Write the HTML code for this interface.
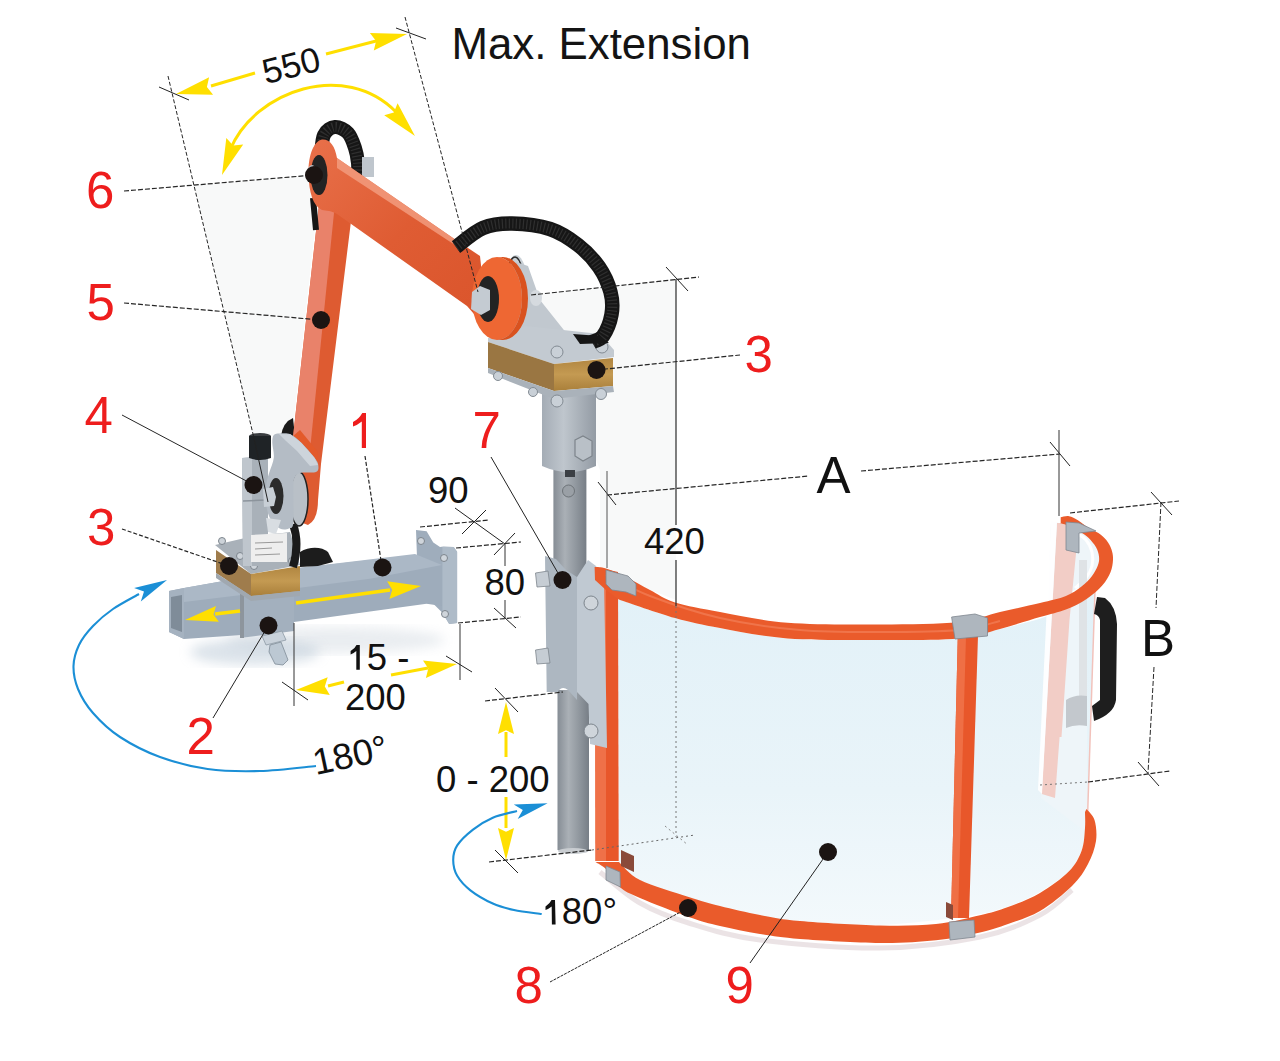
<!DOCTYPE html><html><head><meta charset="utf-8"><style>
html,body{margin:0;padding:0;background:#fff;width:1280px;height:1061px;overflow:hidden}
svg{display:block}
text{font-family:"Liberation Sans",sans-serif}
</style></head><body>
<svg width="1280" height="1061" viewBox="0 0 1280 1061">
<defs>
<linearGradient id="gArm" x1="0" y1="0" x2="1" y2="0"><stop offset="0" stop-color="#f58a63"/><stop offset="0.45" stop-color="#ef6c3e"/><stop offset="1" stop-color="#d9501f"/></linearGradient>
<linearGradient id="gArmU" x1="0" y1="0" x2="1" y2="1"><stop offset="0" stop-color="#e8704a"/><stop offset="0.5" stop-color="#df5c33"/><stop offset="1" stop-color="#da542b"/></linearGradient>
<linearGradient id="gGold" x1="0" y1="0" x2="0" y2="1"><stop offset="0" stop-color="#b08540"/><stop offset="0.5" stop-color="#c49a52"/><stop offset="1" stop-color="#a97f3a"/></linearGradient>
<linearGradient id="gGray" x1="0" y1="0" x2="1" y2="0"><stop offset="0" stop-color="#b9c1c9"/><stop offset="0.5" stop-color="#aab2ba"/><stop offset="1" stop-color="#8e969e"/></linearGradient>
<linearGradient id="gTube" x1="0" y1="0" x2="1" y2="0"><stop offset="0" stop-color="#8c8e92"/><stop offset="0.3" stop-color="#b5b7ba"/><stop offset="0.65" stop-color="#7c7e82"/><stop offset="1" stop-color="#5f6165"/></linearGradient>
<linearGradient id="gPanel" x1="0" y1="0" x2="0" y2="1"><stop offset="0" stop-color="#e2f1f8"/><stop offset="0.6" stop-color="#e9f4f9"/><stop offset="1" stop-color="#f3f9fc"/></linearGradient>
<linearGradient id="gBase" x1="0" y1="0" x2="0" y2="1"><stop offset="0" stop-color="#b3bbc3"/><stop offset="1" stop-color="#99a1a9"/></linearGradient>
<filter id="blur4"><feGaussianBlur stdDeviation="6"/></filter>
</defs>
<rect width="1280" height="1061" fill="#fff"/>

<path d="M194 185 L310 176 L317 210 L292 437 L253 434 Z" fill="#f8f9f9"/>
<path d="M531 295 L676 279 L676 600 L600 570 L600 470 Z" fill="#f8f9f9"/>
<ellipse cx="335" cy="640" rx="110" ry="13" fill="#c2ccd6" opacity="0.35" filter="url(#blur4)"/>
<ellipse cx="255" cy="652" rx="65" ry="13" fill="#b8c7d5" opacity="0.5" filter="url(#blur4)"/>
<path d="M618 599 C628.1 602.5 658.1 613.2 675.0 618.0 C691.9 622.8 701.2 624.6 720.0 628.0 C738.8 631.4 760.7 636.4 787.5 638.4 C814.3 640.4 852.4 640.0 881.0 640.0 C909.6 640.0 939.2 640.2 959.0 638.4 C978.8 636.6 986.6 632.3 1000.0 629.0 C1013.4 625.7 1027.3 622.7 1039.6 618.8 C1051.9 614.9 1065.1 610.0 1073.9 605.6 C1082.7 601.2 1089.3 594.6 1092.4 592.4 L1095 590 L1087 833 C1086.1 835.9 1084.7 844.1 1081.7 850.5 C1078.7 856.9 1076.0 864.4 1069.0 871.3 C1062.0 878.2 1050.2 886.1 1040.0 892.0 C1029.8 897.9 1020.0 902.5 1008.0 906.5 C996.0 910.5 989.3 912.9 968.0 916.0 C946.7 919.1 908.0 923.8 880.0 925.0 C852.0 926.2 821.3 924.3 800.0 923.0 C778.7 921.7 765.8 919.0 752.0 917.0 C738.2 915.0 729.0 913.7 717.5 911.0 C706.0 908.3 693.0 904.5 683.0 900.8 C673.0 897.1 665.9 893.1 657.3 888.8 C648.7 884.5 638.0 879.6 631.6 875.0 C625.2 870.4 620.9 863.3 618.7 861.0 Z" fill="url(#gPanel)"/>
<path d="M1051 521 L1060.7 523.5 C1062.2 523.9 1066.5 524.5 1070.0 526.0 C1073.5 527.5 1078.4 530.8 1081.5 532.8 C1084.6 534.8 1086.3 535.6 1088.7 538.0 C1091.1 540.4 1094.3 544.2 1096.0 547.3 C1097.7 550.4 1098.7 553.6 1099.0 556.6 C1099.3 559.6 1099.2 561.7 1098.0 565.0 C1096.8 568.3 1094.5 572.9 1091.8 576.3 C1089.0 579.7 1085.8 582.5 1081.5 585.6 C1077.2 588.7 1068.5 593.4 1065.9 595.0 L1087 600 L1087 833 L1041 798 Z" fill="#eef5f9"/>
<path d="M1075.0 532.0 C1076.8 533.3 1083.2 536.7 1086.0 540.0 C1088.8 543.3 1091.0 547.7 1092.0 552.0 C1093.0 556.3 1093.0 561.7 1092.0 566.0 C1091.0 570.3 1088.8 574.3 1086.0 578.0 C1083.2 581.7 1076.8 586.3 1075.0 588.0" stroke="#ffffff" stroke-width="3" fill="none"/>
<path d="M1057 523 L1079 523 L1069.5 620 L1061.5 737 L1059.6 737 L1055 798 L1041.8 794 Z" fill="#f2cdc6"/>
<path d="M1051 521 L1057 521 L1042 794 L1038 790 Z" fill="#ffffff" opacity="0.9"/>
<path d="M1079 560 L1087 560 L1087 699 L1079 699 Z" fill="#dfe3e6"/>
<path d="M1066 700 Q1075 694 1087 696 L1087 726 Q1075 724 1066 728 Z" fill="#c3c8cd"/>
<path d="M1095 590 L1087 833" stroke="#f2c2bb" stroke-width="1.5"/>
<path d="M1097 597 L1105 598 Q1116 606 1117 624 L1116 700 Q1114 714 1094 721 L1092 706 L1100 700 L1100 620 Q1099 615 1094 614 Z" fill="#1e1e1e"/>
<path d="M595 567 L618 572 L618.7 861 L595.5 861 Z" fill="#e8572a"/>
<path d="M595 567 L606 569 L606 861 L595.5 861 Z" fill="#ef7148"/>
<linearGradient id="gTube2" x1="0" y1="0" x2="1" y2="0"><stop offset="0" stop-color="#868d95"/><stop offset="0.35" stop-color="#aab0b6"/><stop offset="0.65" stop-color="#939aa1"/><stop offset="1" stop-color="#777e86"/></linearGradient>
<linearGradient id="gSleeve" x1="0" y1="0" x2="1" y2="0"><stop offset="0" stop-color="#a4acb5"/><stop offset="0.4" stop-color="#bfc6cd"/><stop offset="1" stop-color="#939ba4"/></linearGradient>
<path d="M557.5 690 L589 690 L589 850 Q573 856 557.5 850 Z" fill="url(#gTube2)"/>
<ellipse cx="573" cy="851" rx="15" ry="3" fill="#c9cdd1"/>
<rect x="553.4" y="465" width="33" height="112" fill="url(#gTube2)"/>
<path d="M542 393 L596 393 L596 466 Q569 478 542 466 Z" fill="url(#gSleeve)"/>
<path d="M575 440 L583 436 L592 441 L592 456 L583 461 L575 456 Z" fill="#b9c0c7" stroke="#7d848b" stroke-width="1.2"/>
<path d="M565 470 L575 470 L575 477 L565 477 Z" fill="#3b3f44"/>
<circle cx="568.5" cy="491" r="6" fill="#9aa0a6" stroke="#6d7378"/>
<path d="M545 556 L556 559 L566 570 L577 577 L577 700 L568 690 Q562 685 557.5 692 L546.7 692 Z" fill="#adb7c1"/>
<path d="M577 577 L588 560 L596 566 L604 580 L607 748 L590 744 L588.5 704 L577 692 Z" fill="#c0c9d2"/>
<path d="M535.5 573 L548 571 L550 586 L537 587 Z" fill="#c6cdd4" stroke="#7d858d" stroke-width="0.8"/>
<path d="M535.5 650 L548 648 L550 663 L537 664 Z" fill="#c6cdd4" stroke="#7d858d" stroke-width="0.8"/>
<circle cx="591" cy="603" r="7" fill="#cfd5db" stroke="#7d858d"/>
<circle cx="591" cy="731" r="7" fill="#cfd5db" stroke="#7d858d"/>
<path d="M594.6 567.0 C596.5 567.2 600.8 566.8 606.0 568.5 C611.2 570.2 618.7 573.4 626.0 577.0 C633.3 580.6 641.8 585.8 650.0 590.0 C658.2 594.2 663.3 598.8 675.0 602.5 C686.7 606.2 701.2 608.6 720.0 612.0 C738.8 615.4 760.7 620.7 787.5 622.8 C814.3 624.9 852.4 624.5 881.0 624.4 C909.6 624.2 939.2 624.0 959.0 621.9 C978.8 619.8 986.5 615.1 1000.0 612.0 C1013.5 608.9 1029.0 605.7 1040.0 603.0 C1051.0 600.3 1059.0 598.8 1065.9 596.0 C1072.8 593.2 1077.2 589.8 1081.5 586.5 C1085.8 583.2 1089.0 579.9 1091.8 576.3 C1094.5 572.7 1096.8 568.3 1098.0 565.0 C1099.2 561.7 1099.3 559.6 1099.0 556.6 C1098.7 553.6 1097.7 550.4 1096.0 547.3 C1094.3 544.2 1091.1 540.4 1088.7 538.0 C1086.3 535.6 1084.6 534.8 1081.5 532.8 C1078.4 530.8 1073.5 527.5 1070.0 526.0 C1066.5 524.5 1062.2 523.9 1060.7 523.5 L1060.7 517.3 C1062.1 517.1 1066.1 515.7 1069.0 516.2 C1071.9 516.7 1074.8 518.3 1078.3 520.4 C1081.8 522.5 1086.4 526.6 1089.7 528.7 C1093.0 530.8 1095.2 530.9 1098.0 532.8 C1100.8 534.7 1104.0 537.2 1106.3 540.0 C1108.5 542.8 1110.4 546.1 1111.5 549.4 C1112.6 552.7 1113.2 555.9 1113.0 559.7 C1112.8 563.5 1112.3 567.9 1110.5 572.2 C1108.7 576.5 1106.2 581.1 1102.2 585.6 C1098.2 590.1 1092.6 595.0 1086.6 599.0 C1080.5 603.0 1073.7 606.5 1065.9 609.5 C1058.1 612.5 1051.0 613.8 1040.0 617.0 C1029.0 620.2 1013.5 625.4 1000.0 629.0 C986.5 632.6 978.8 636.6 959.0 638.4 C939.2 640.2 909.6 640.0 881.0 640.0 C852.4 640.0 814.3 640.4 787.5 638.4 C760.7 636.4 738.8 631.4 720.0 628.0 C701.2 624.6 691.9 622.8 675.0 618.0 C658.1 613.2 628.1 602.5 618.8 599.4 L606 590 L595 580 Z" fill="#ea5b2b"/>
<path d="M606.0 575.0 C613.3 578.5 631.0 588.8 650.0 596.0 C669.0 603.2 695.0 612.3 720.0 618.0 C745.0 623.7 773.2 627.7 800.0 630.0 C826.8 632.3 854.5 632.0 881.0 632.0 C907.5 632.0 939.2 631.8 959.0 630.0 C978.8 628.2 993.2 622.5 1000.0 621.0" stroke="#f4865f" stroke-width="2" fill="none" opacity="0.6"/>
<path d="M600.0 872.0 C606.7 877.2 625.2 894.5 640.0 903.0 C654.8 911.5 668.7 916.8 688.7 923.0 C708.7 929.2 728.1 935.8 760.0 940.0 C791.9 944.2 843.3 948.5 880.0 948.0 C916.7 947.5 953.3 942.5 980.0 937.0 C1006.7 931.5 1024.7 922.8 1040.0 915.0 C1055.3 907.2 1066.7 894.2 1072.0 890.0" stroke="#ddd0d4" stroke-width="5" fill="none" opacity="0.6"/>
<path d="M595.5 862.0 C597.3 863.3 602.4 865.4 606.4 869.6 C610.4 873.8 614.0 882.3 619.6 887.0 C625.2 891.7 628.5 893.0 640.0 898.0 C651.5 903.0 675.4 912.3 688.7 917.0 C702.0 921.7 708.1 923.2 720.0 926.0 C731.9 928.8 746.7 931.8 760.0 934.0 C773.3 936.2 780.0 937.5 800.0 939.0 C820.0 940.5 857.3 942.8 880.0 943.0 C902.7 943.2 919.3 942.0 936.0 940.3 C952.7 938.5 968.0 935.2 980.0 932.5 C992.0 929.8 998.0 927.6 1008.0 924.0 C1018.0 920.4 1029.3 917.3 1040.0 911.0 C1050.7 904.7 1064.0 893.8 1072.0 886.0 C1080.0 878.2 1084.0 871.5 1088.0 864.0 C1092.0 856.5 1094.9 848.3 1096.0 841.0 C1097.1 833.7 1096.1 825.3 1094.5 820.0 C1092.9 814.7 1087.8 810.8 1086.5 809.0 L1085 812 C1085.0 814.7 1085.5 821.6 1085.0 828.0 C1084.5 834.4 1084.4 843.3 1081.7 850.5 C1079.0 857.7 1076.0 864.2 1069.0 871.3 C1062.0 878.4 1050.2 887.0 1040.0 893.0 C1029.8 899.0 1018.0 903.3 1008.0 907.0 C998.0 910.7 992.0 912.5 980.0 915.3 C968.0 918.1 952.7 922.3 936.0 924.0 C919.3 925.7 902.7 926.0 880.0 925.5 C857.3 925.0 820.0 922.8 800.0 921.0 C780.0 919.2 773.3 917.5 760.0 915.0 C746.7 912.5 731.9 909.0 720.0 906.0 C708.1 903.0 702.0 901.3 688.7 897.0 C675.4 892.7 651.6 885.8 640.0 880.0 C628.4 874.2 622.5 865.0 619.0 862.0 Z" fill="#ea5b2b"/>
<path d="M957.8 636 L978 636 L969 918 L951 918 Z" fill="#e8572a"/>
<path d="M957.8 636 L966 636 L958 918 L951 918 Z" fill="#ef6f45"/>
<path d="M606 570 L628 576 L636 584 L636 596 L626 592 L612 590 L606 584 Z" fill="#aeb6be" stroke="#7f878f" stroke-width="0.8"/>
<path d="M951.6 617 L975 614 L987.5 618 L987.5 636 L976 637 L955 639 Z" fill="#aeb6be" stroke="#7f878f" stroke-width="0.8"/>
<path d="M1066 522 L1079 523 L1096 531 L1079 533 L1079 553 L1066 550 Z" fill="#aeb6be" stroke="#7f878f" stroke-width="0.8"/>
<path d="M949 922 L974 920 L975 937 L950 940 Z" fill="#aeb6be" stroke="#7f878f" stroke-width="0.8"/>
<path d="M606 866 L620 872 L620.4 887 L606 880 Z" fill="#aeb6be" stroke="#7f878f" stroke-width="0.8"/>
<path d="M621 850 L634 856 L634 872 L621 866 Z" fill="#8a4a3a"/>
<path d="M946 902 L953 905 L953 920 L946 917 Z" fill="#8a4a3a"/>
<path d="M416 530 L426.6 531.3 L433.3 542.6 L440 547 L443.5 546.6 L453.7 547.1 L457.1 551.7 L457.1 623 L449.2 624 L442.4 612.8 L433.3 603.7 L418.6 602.6 Z" fill="#9fadbc"/>
<path d="M442.4 547 L453.7 547.1 L457.1 551.7 L457.1 623 L449.2 624 L442.4 612.8 Z" fill="#aebbc8"/>
<circle cx="421" cy="541" r="3.5" fill="#cfd5db" stroke="#7d858d"/>
<circle cx="444" cy="558" r="3.5" fill="#cfd5db" stroke="#7d858d"/>
<circle cx="445" cy="614" r="3.5" fill="#cfd5db" stroke="#7d858d"/>
<path d="M169 591 L184 588 L298 568 L417 555 L442 565 L442 606 L426.6 603.7 L370 611.6 L294 622 L242 635 L184 639 L169 632 Z" fill="#9eacbb"/>
<path d="M184 588 L298 568 L415 554 L442 565 L370 578.8 L298 588 L184 602 Z" fill="#abb8c6"/>
<path d="M169 591 L184 588 L184 639 L169 632 Z" fill="#a5b2c0"/>
<path d="M171 597 L182 595 L182 632 L171 628 Z" fill="#7f8c99"/>
<path d="M240 594 L294 590 L294 631 L240 638 Z" fill="#a3b0be"/>
<path d="M240 594 L244 594 L244 638 L240 638 Z" fill="#8d959d"/>
<path d="M262 636 L282 631 L286 640 L266 645 Z" fill="#c9d2db" stroke="#8d99a5" stroke-width="0.8"/>
<path d="M270 645 L281 642 L288 660 L283 665 L275 664 L269 652 Z" fill="#bcc8d3" stroke="#7f8b97" stroke-width="0.8"/>
<path d="M215 545 L245 538 L290 532 L300 565 L251 574 Z" fill="#a9b1b9"/>
<path d="M216 550 L251 574 L251 596 L216 573 Z" fill="#9f7c4c"/>
<path d="M251 574 L300 566 L300 591 L251 596 Z" fill="url(#gGold)"/>
<path d="M216 573 L251 596 L300 591 L300 596 L251 601 L216 578 Z" fill="#a0a8b0"/>
<circle cx="222" cy="541" r="3.5" fill="#cdd3d9" stroke="#7d858d"/>
<circle cx="240" cy="556" r="3.5" fill="#cdd3d9" stroke="#7d858d"/>
<circle cx="254" cy="566" r="3.5" fill="#cdd3d9" stroke="#7d858d"/>
<circle cx="292" cy="561" r="3.5" fill="#cdd3d9" stroke="#7d858d"/>
<path d="M242 458 L268 456 L268 534 L288 533 L288 566 L243 566 Z" fill="#a9b1b9"/>
<path d="M242 458 L252 457 L252 566 L243 566 Z" fill="#bfc6cd"/>
<path d="M243 501 L266 500" stroke="#8c949c" stroke-width="1.5"/>
<path d="M251 535 L287 533 L287 562 L251 562 Z" fill="#eeeeee"/>
<path d="M255 543 L283 542 M255 549 L272 548 M255 555 L280 554" stroke="#999" stroke-width="1"/>
<ellipse cx="260" cy="436" rx="11" ry="3" fill="#3a3d40"/>
<path d="M249 436 L271 436 L271 458 Q260 462 249 458 Z" fill="#1f2326"/>
<path d="M293 524 C297 535, 298 550, 293 567" stroke="#1a1a1a" stroke-width="8" fill="none"/>
<path d="M300 552 C310 546, 322 547, 328 552 L333 562 L318 566 L300 567 Z" fill="#1c1c1c"/>
<path d="M281 436 Q283 422 293 418 L295 436 Z" fill="#1a1a1a"/>
<path d="M319.5 200 L353 205 L321 464 L318 500 Q318 520 308 525 L300 522 L293 437 Z" fill="#de5b31"/>
<path d="M319.5 200 L335 203 L308 470 L300 470 L293 437 Z" fill="#e9826a"/>
<path d="M292 437 L300 430 L318 452 L317 464 Z" fill="#e35a2a"/>
<ellipse cx="299" cy="499" rx="9" ry="27" fill="#b9c0c7" stroke="#222" stroke-width="1.5"/>
<path d="M273.8 435.1 C275.1 433.6 277.0 433.7 279.8 433.6 C282.6 433.5 286.9 432.8 290.4 434.3 C293.9 435.8 297.0 438.7 301.0 442.6 C305.0 446.5 311.6 453.9 314.5 457.7 C317.4 461.5 318.1 462.9 318.3 465.3 C318.6 467.7 318.9 470.8 316.0 472.0 C313.1 473.2 304.5 471.9 301.0 472.8 C297.5 473.7 296.2 474.8 294.9 477.3 C293.6 479.8 293.6 480.3 293.4 487.9 C293.1 495.4 294.1 515.8 293.4 522.6 C292.6 529.4 291.2 527.6 288.9 528.6 C286.6 529.6 282.8 530.1 279.8 528.6 C276.8 527.1 273.0 523.6 270.7 519.6 C268.4 515.6 266.9 510.3 266.2 504.5 C265.4 498.7 265.7 490.2 266.2 484.9 C266.7 479.6 267.9 477.3 269.2 472.8 C270.5 468.3 273.3 462.7 273.8 457.7 C274.3 452.7 272.3 446.4 272.3 442.6 C272.3 438.8 272.6 436.6 273.8 435.1 Z" fill="#b4bcc5"/>
<path d="M279 434 L290.4 434.3 L301 442.6 L314.5 457.7 L318 465 L310 466 L297 451 L286 441 Z" fill="#cdd4db"/>
<ellipse cx="276" cy="496" rx="7.5" ry="18" fill="#2b2b2b"/>
<path d="M263 489 L273 487 L276 497 L274 506 L264 507 Z" fill="#c8cfd6"/>
<path d="M266 518 L281 520 L276 534 L268 532 Z" fill="#d8dde2"/>
<path d="M321.0 155.0 C321.5 151.7 321.7 139.7 324.0 135.0 C326.3 130.3 331.0 127.3 335.0 127.0 C339.0 126.7 344.7 129.5 348.0 133.0 C351.3 136.5 353.3 143.0 355.0 148.0 C356.7 153.0 357.5 158.3 358.0 163.0 C358.5 167.7 358.0 173.8 358.0 176.0" stroke="#161616" stroke-width="14" fill="none"/>
<path d="M321.0 155.0 C321.5 151.7 321.7 139.7 324.0 135.0 C326.3 130.3 331.0 127.3 335.0 127.0 C339.0 126.7 344.7 129.5 348.0 133.0 C351.3 136.5 353.3 143.0 355.0 148.0 C356.7 153.0 357.5 158.3 358.0 163.0 C358.5 167.7 358.0 173.8 358.0 176.0" stroke="#3a3a3a" stroke-width="10" stroke-dasharray="1.2 2.3" fill="none" opacity="0.7"/>
<rect x="362" y="157" width="12" height="20" fill="#bfc6cd"/>
<path d="M313 198 L316 230" stroke="#161616" stroke-width="6" fill="none"/>
<ellipse cx="516" cy="297" rx="13" ry="42" fill="#c9d0d6"/>
<ellipse cx="515" cy="297" rx="10" ry="40" fill="none" stroke="#2a2a2a" stroke-width="1.5"/>
<path d="M516 262 L528 266 L540 300 L575 344 L526 354 L512 338 Z" fill="#c1c8cf"/>
<ellipse cx="536" cy="298" rx="6" ry="8" fill="#d5dadf"/>
<path d="M488 338 L526 326 L600 334 L614 350 L614 357 L554 364 L488 342 Z" fill="#c3cad1"/>
<path d="M488 342 L554 364 L554 391 L488 368 Z" fill="#9a7642"/>
<path d="M554 364 L613 358 L613 386 L554 391 Z" fill="url(#gGold)"/>
<path d="M488 368 L554 391 L613 386 L614 392 L554 399 L488 373 Z" fill="#aab2ba"/>
<circle cx="557" cy="352" r="6" fill="#c9d0d7" stroke="#838b93"/>
<circle cx="602" cy="347" r="6" fill="#c9d0d7" stroke="#838b93"/>
<circle cx="498" cy="376" r="4.5" fill="#c9d0d7" stroke="#838b93"/>
<circle cx="533" cy="392" r="4.5" fill="#c9d0d7" stroke="#838b93"/>
<circle cx="557" cy="401" r="6" fill="#c9d0d7" stroke="#838b93"/>
<circle cx="601" cy="394" r="5.5" fill="#c9d0d7" stroke="#838b93"/>
<path d="M308.5 175 C308 155, 314 141, 322 139.5 C330 139, 335 146, 337 158 L453 238 L480 256 L488 330 L467 306 L337 214 C332 211, 326 210.5, 322 210 C313 206, 309 192, 308.5 175 Z" fill="url(#gArmU)"/>
<path d="M337 158 L453 238 L462 246 L455 245 L337 168 Z" fill="#f29b7e" opacity="0.85"/>
<ellipse cx="497" cy="298.5" rx="25" ry="41.5" fill="#ee6733"/>
<path d="M497 257 A25 41.5 0 0 1 497 340 L503 340 A25 41.5 0 0 0 503 257 Z" fill="#d9521f"/>
<ellipse cx="488" cy="299" rx="11" ry="23" fill="#232323"/>
<path d="M472 292 L480 286 L490 290 L490 310 L481 315 L471 309 Z" fill="#c4cbd2"/>
<ellipse cx="319" cy="175" rx="8.5" ry="20" fill="#232323"/>
<ellipse cx="312" cy="174" rx="5" ry="9" fill="#c0c7ce"/>
<path d="M456.0 247.0 C460.5 243.8 473.7 231.9 483.0 228.0 C492.3 224.1 500.8 223.3 512.0 223.5 C523.2 223.7 539.0 225.4 550.0 229.0 C561.0 232.6 569.8 238.7 578.0 245.0 C586.2 251.3 593.6 259.2 599.0 267.0 C604.4 274.8 608.4 284.1 610.5 292.0 C612.6 299.9 612.8 307.2 611.5 314.5 C610.2 321.8 606.2 331.4 603.0 336.0 C599.8 340.6 593.8 341.0 592.0 342.0" stroke="#161616" stroke-width="14.5" fill="none"/>
<path d="M456.0 247.0 C460.5 243.8 473.7 231.9 483.0 228.0 C492.3 224.1 500.8 223.3 512.0 223.5 C523.2 223.7 539.0 225.4 550.0 229.0 C561.0 232.6 569.8 238.7 578.0 245.0 C586.2 251.3 593.6 259.2 599.0 267.0 C604.4 274.8 608.4 284.1 610.5 292.0 C612.6 299.9 612.8 307.2 611.5 314.5 C610.2 321.8 606.2 331.4 603.0 336.0 C599.8 340.6 593.8 341.0 592.0 342.0" stroke="#3a3a3a" stroke-width="10" stroke-dasharray="1.2 2.3" fill="none" opacity="0.7"/>
<path d="M573 334 L600 336 L609 343 L580 344 Z" fill="#161616"/>
<line x1="168" y1="76" x2="253" y2="434" stroke="#262626" stroke-width="1" stroke-dasharray="4 2" />
<line x1="253" y1="434" x2="268" y2="502" stroke="#222" stroke-width="1" />
<line x1="405" y1="17" x2="478" y2="292" stroke="#262626" stroke-width="1" stroke-dasharray="4 2" />
<line x1="159" y1="87" x2="189" y2="100" stroke="#222" stroke-width="1" />
<line x1="396" y1="28" x2="426" y2="39" stroke="#222" stroke-width="1" />
<line x1="124" y1="191" x2="314" y2="175" stroke="#262626" stroke-width="1.2" stroke-dasharray="5 2" />
<line x1="124" y1="303" x2="321" y2="320" stroke="#262626" stroke-width="1.2" stroke-dasharray="5 2" />
<line x1="122" y1="415" x2="254" y2="485" stroke="#262626" stroke-width="1" />
<line x1="122" y1="529" x2="229" y2="566" stroke="#262626" stroke-width="1.2" stroke-dasharray="4 2" />
<line x1="365" y1="456" x2="382" y2="567" stroke="#262626" stroke-width="1.2" stroke-dasharray="4 2" />
<line x1="213" y1="718" x2="268" y2="626" stroke="#222" stroke-width="1" />
<line x1="491" y1="457" x2="562" y2="580" stroke="#222" stroke-width="1" />
<line x1="550" y1="982" x2="688" y2="908" stroke="#222" stroke-width="1" stroke-dasharray="3 1" />
<line x1="750" y1="963" x2="828" y2="852" stroke="#222" stroke-width="1" />
<line x1="596" y1="370" x2="740" y2="355" stroke="#262626" stroke-width="1.2" stroke-dasharray="5 2" />
<line x1="531" y1="295" x2="699" y2="277" stroke="#262626" stroke-width="1.2" stroke-dasharray="5 2" />
<line x1="676" y1="279" x2="676" y2="525" stroke="#2a2a2a" stroke-width="1.2" />
<line x1="676" y1="560" x2="676" y2="606" stroke="#2a2a2a" stroke-width="1.2" />
<line x1="676" y1="606" x2="676" y2="837" stroke="#777" stroke-width="1" stroke-dasharray="2 3" />
<line x1="666" y1="267" x2="688" y2="291" stroke="#222" stroke-width="1" />
<line x1="592" y1="850" x2="695" y2="835" stroke="#666" stroke-width="1" stroke-dasharray="2 3" />
<line x1="665" y1="826" x2="688" y2="845" stroke="#888" stroke-width="1" stroke-dasharray="2 3" />
<line x1="607" y1="495" x2="809" y2="476" stroke="#262626" stroke-width="1.2" stroke-dasharray="5 2" />
<line x1="861" y1="471" x2="1060" y2="454" stroke="#262626" stroke-width="1.2" stroke-dasharray="5 2" />
<line x1="598" y1="482" x2="616" y2="505" stroke="#222" stroke-width="1" />
<line x1="1050" y1="442" x2="1070" y2="466" stroke="#222" stroke-width="1" />
<line x1="607" y1="471" x2="607" y2="568" stroke="#555" stroke-width="1" />
<line x1="1059" y1="430" x2="1059" y2="516" stroke="#333" stroke-width="1" />
<line x1="1070" y1="513" x2="1179" y2="501" stroke="#262626" stroke-width="1.2" stroke-dasharray="5 2" />
<line x1="1151" y1="492" x2="1172" y2="515" stroke="#222" stroke-width="1" />
<line x1="1161" y1="502" x2="1156" y2="608" stroke="#262626" stroke-width="1" stroke-dasharray="5 2" />
<line x1="1154" y1="667" x2="1148" y2="773" stroke="#262626" stroke-width="1" stroke-dasharray="5 2" />
<line x1="1040" y1="785" x2="1088" y2="782" stroke="#777" stroke-width="1" stroke-dasharray="2 3" />
<line x1="1088" y1="782" x2="1170" y2="771" stroke="#262626" stroke-width="1.2" stroke-dasharray="5 2" />
<line x1="1138" y1="762" x2="1159" y2="786" stroke="#222" stroke-width="1" />
<line x1="420" y1="527" x2="489" y2="520" stroke="#262626" stroke-width="1.2" stroke-dasharray="5 2" />
<line x1="455" y1="508" x2="505" y2="544" stroke="#222" stroke-width="1" />
<line x1="462" y1="534" x2="486" y2="510" stroke="#222" stroke-width="1" />
<line x1="494" y1="555" x2="515" y2="533" stroke="#222" stroke-width="1" />
<line x1="456" y1="548" x2="521" y2="542" stroke="#262626" stroke-width="1.2" stroke-dasharray="5 2" />
<line x1="505" y1="544" x2="505" y2="566" stroke="#333" stroke-width="1" />
<line x1="505" y1="600" x2="505" y2="618" stroke="#333" stroke-width="1" />
<line x1="458" y1="623" x2="521" y2="617" stroke="#262626" stroke-width="1.2" stroke-dasharray="5 2" />
<line x1="494" y1="608" x2="516" y2="628" stroke="#222" stroke-width="1" />
<line x1="294" y1="623" x2="294" y2="706" stroke="#333" stroke-width="1" />
<line x1="460" y1="624" x2="460" y2="680" stroke="#333" stroke-width="1" />
<line x1="282" y1="682" x2="308" y2="700" stroke="#222" stroke-width="1" />
<line x1="446" y1="656" x2="472" y2="672" stroke="#222" stroke-width="1" />
<line x1="485" y1="701" x2="563" y2="692" stroke="#262626" stroke-width="1.2" stroke-dasharray="5 2" />
<line x1="495" y1="688" x2="518" y2="712" stroke="#222" stroke-width="1" />
<line x1="489" y1="862" x2="592" y2="850" stroke="#262626" stroke-width="1.2" stroke-dasharray="5 2" />
<line x1="495" y1="850" x2="518" y2="873" stroke="#222" stroke-width="1" />
<path d="M211 86 L255 73" stroke="#ffdf00" stroke-width="3"/>
<path d="M176.0 94.0 L209.1 77.2 L206.9 86.9 L213.1 94.8 Z" fill="#ffdf00"/>
<path d="M326 54 L380 40" stroke="#ffdf00" stroke-width="3"/>
<path d="M407.0 34.0 L373.8 50.6 L376.1 40.9 L369.9 33.0 Z" fill="#ffdf00"/>
<path d="M230 150 C255 90, 345 60, 396 112" stroke="#ffdf00" stroke-width="3" fill="none"/>
<path d="M222.0 175.0 L226.3 138.1 L233.2 145.4 L243.2 144.5 Z" fill="#ffdf00"/>
<path d="M415.0 136.0 L384.2 115.3 L393.8 112.5 L397.6 103.2 Z" fill="#ffdf00"/>
<path d="M296 603 L390 590" stroke="#ffdf00" stroke-width="3.5"/>
<path d="M421.0 586.0 L389.4 599.1 L392.2 589.7 L387.1 581.3 Z" fill="#ffdf00"/>
<path d="M240 611 L215 614" stroke="#ffdf00" stroke-width="3.5"/>
<path d="M185.0 620.0 L216.0 606.1 L213.5 614.6 L218.9 621.8 Z" fill="#ffdf00"/>
<path d="M328 686 L344 682" stroke="#ffdf00" stroke-width="3"/>
<path d="M296.0 690.0 L327.7 677.2 L324.8 686.6 L329.8 695.1 Z" fill="#ffdf00"/>
<path d="M391 675 L428 668" stroke="#ffdf00" stroke-width="3"/>
<path d="M457.0 664.0 L425.9 678.1 L428.3 668.6 L423.0 660.4 Z" fill="#ffdf00"/>
<path d="M506 732 L506 757" stroke="#ffdf00" stroke-width="3"/>
<path d="M506.0 702.0 L514.0 734.0 L506.0 730.2 L498.0 734.0 Z" fill="#ffdf00"/>
<path d="M506 797 L506 828" stroke="#ffdf00" stroke-width="3"/>
<path d="M506.0 860.0 L498.0 828.0 L506.0 831.8 L514.0 828.0 Z" fill="#ffdf00"/>
<path d="M316.0 766.0 C306.7 766.8 278.1 770.5 260.0 771.0 C241.9 771.5 224.3 771.3 207.6 769.0 C190.9 766.7 174.6 762.3 160.0 757.0 C145.4 751.7 131.2 744.3 120.0 737.0 C108.8 729.7 100.0 721.0 93.0 713.0 C86.0 705.0 81.2 696.8 78.0 689.0 C74.8 681.2 73.3 673.3 73.5 666.0 C73.7 658.7 75.8 651.7 79.0 645.0 C82.2 638.3 87.3 632.0 93.0 626.0 C98.7 620.0 105.3 614.3 113.0 609.0 C120.7 603.7 134.7 596.5 139.0 594.0" stroke="#1b8fd6" stroke-width="2.1" fill="none"/>
<path d="M167.0 580.0 L140.8 601.5 L144.0 591.5 L134.1 588.0 Z" fill="#1b8fd6"/>
<path d="M541.7 914.0 C537.1 913.3 522.1 911.8 514.0 910.0 C505.9 908.2 500.1 906.8 492.8 903.5 C485.5 900.2 476.3 894.9 470.4 890.3 C464.5 885.7 460.1 880.8 457.2 875.8 C454.3 870.8 453.2 865.1 453.2 860.0 C453.2 854.9 453.9 850.5 457.2 845.4 C460.5 840.3 467.1 834.2 473.0 829.6 C478.9 825.0 485.5 820.8 492.8 817.7 C500.1 814.6 513.0 812.1 517.0 811.0" stroke="#1b8fd6" stroke-width="2.1" fill="none"/>
<path d="M547.6 803.2 L517.7 819.1 L522.8 809.9 L513.8 804.6 Z" fill="#1b8fd6"/>
<circle cx="314" cy="175" r="9" fill="#1b1412"/>
<circle cx="321" cy="320" r="9" fill="#1b1412"/>
<circle cx="253.5" cy="485" r="9" fill="#1b1412"/>
<circle cx="229" cy="566" r="9" fill="#1b1412"/>
<circle cx="382.5" cy="567.5" r="9" fill="#1b1412"/>
<circle cx="268.5" cy="625.5" r="9" fill="#1b1412"/>
<circle cx="562.5" cy="580" r="9" fill="#1b1412"/>
<circle cx="596.5" cy="370" r="9" fill="#1b1412"/>
<circle cx="688" cy="908" r="9" fill="#1b1412"/>
<circle cx="828" cy="852" r="9" fill="#1b1412"/>
<text x="451.5" y="58.5" font-size="43.8" fill="#141414" text-anchor="start" >Max. Extension</text>
<text x="291" y="65" font-size="35" fill="#111" text-anchor="middle" transform="rotate(-14 291 65)" dominant-baseline="central">550</text>
<text x="86" y="207.8" font-size="51" fill="#ee1d1d" text-anchor="start" >6</text>
<text x="86.5" y="320" font-size="51" fill="#ee1d1d" text-anchor="start" >5</text>
<text x="84.5" y="433" font-size="51" fill="#ee1d1d" text-anchor="start" >4</text>
<text x="87" y="545" font-size="51" fill="#ee1d1d" text-anchor="start" >3</text>
<text x="186.6" y="754" font-size="51" fill="#ee1d1d" text-anchor="start" >2</text>
<text x="472.4" y="448" font-size="51" fill="#ee1d1d" text-anchor="start" >7</text>
<text x="744.5" y="372" font-size="51" fill="#ee1d1d" text-anchor="start" >3</text>
<text x="514.6" y="1002.8" font-size="51" fill="#ee1d1d" text-anchor="start" >8</text>
<text x="725.5" y="1002.8" font-size="51" fill="#ee1d1d" text-anchor="start" >9</text>
<text x="428" y="503" font-size="36.5" fill="#111" text-anchor="start" >90</text>
<text x="484.5" y="595" font-size="36.5" fill="#111" text-anchor="start" >80</text>
<text x="644" y="554" font-size="36.5" fill="#111" text-anchor="start" >420</text>
<text x="816.5" y="492.5" font-size="51" fill="#111" text-anchor="start" >A</text>
<text x="1141" y="656" font-size="51" fill="#111" text-anchor="start" >B</text>
<text x="366.8" y="670" font-size="36.5" fill="#111" text-anchor="start" >5 -</text>
<text x="345" y="709.6" font-size="36.5" fill="#111" text-anchor="start" >200</text>
<text x="436" y="791.6" font-size="36.5" fill="#111" text-anchor="start" >0 - 200</text>
<text x="561.8" y="924.3" font-size="36.5" fill="#111" text-anchor="start" >80°</text>
<path d="M362.3 413 L366 413 L366 448 L361.8 448 L361.8 421.5 Q357.5 425 353 426.5 L353 422 Q359 419 362.3 413 Z" fill="#ee1d1d"/>
<path d="M356.5 645 L359.8 645 L359.8 669.7 L356.3 669.7 L356.3 651 Q353.5 653.5 350.6 654.5 L350.6 651 Q355 648.5 356.5 645 Z" fill="#111"/>
<path d="M551.5 900 L555 900 L555.6 924.5 L551.9 924.5 L551.7 906.5 Q548.5 909 545.5 910 L545.5 906.5 Q550 903.5 551.5 900 Z" fill="#111"/>
<text x="350" y="755" font-size="36.5" fill="#111" text-anchor="middle" transform="rotate(-12 350 755)" dominant-baseline="central">180°</text>
</svg></body></html>
